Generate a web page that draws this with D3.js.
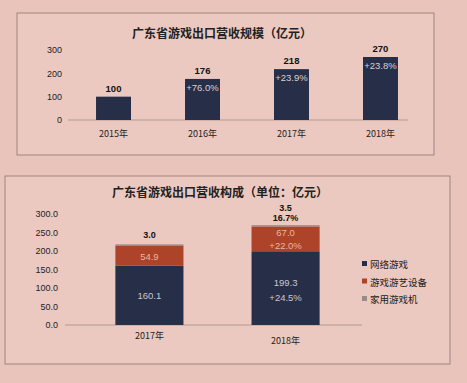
<!DOCTYPE html>
<html><head><meta charset="utf-8">
<script src="https://cdn.jsdelivr.net/npm/d3@7"></script>
<style>
html,body{margin:0;padding:0;background:#e9c4bb;}
svg{display:block;font-family:"Noto Sans CJK SC","Noto Sans",sans-serif;}
</style></head>
<body>
<svg id="c" width="467" height="383"></svg>
<script>
// Top chart data
const years1 = ["2015年","2016年","2017年","2018年"];
const revenue = [100,176,218,270];
const growth1 = ["","+76.0%","+23.9%","+23.8%"];
const ticks1 = [0,100,200,300];

// Bottom chart data
const years2 = ["2017年","2018年"];
const seriesNames = ["网络游戏","游戏游艺设备","家用游戏机"];
const online = [160.1,199.3];
const arcade = [54.9,67.0];
const consoleG = [3.0,3.5];
const onlineGrowth = ["","+24.5%"];
const arcadeGrowth = ["","+22.0%"];
const consoleGrowth = ["","16.7%"];
const ticks2 = [0,50,100,150,200,250,300];

const navy = "#272e48", orange = "#ad4328", grey = "#9a8a8a";
const svg = d3.select("#c");

// boxes
svg.append("rect").attr("x",17).attr("y",13).attr("width",417).attr("height",142)
  .attr("fill","#ecc9c0").attr("stroke","#8f7570").attr("stroke-width",0.8);
svg.append("rect").attr("x",5).attr("y",176).attr("width",445).attr("height",188)
  .attr("fill","#ecc9c0").attr("stroke","#8f7570").attr("stroke-width",0.8);

const numFont = "Liberation Sans, Arial, sans-serif";

// ---- Top chart
const g1 = svg.append("g");
g1.append("text").attr("x",222).attr("y",38).attr("text-anchor","middle")
  .attr("font-size",12).attr("font-weight","bold").attr("fill","#222").text("广东省游戏出口营收规模（亿元）");
const x1 = d3.scaleBand().domain(years1).range([68,426]).paddingInner(0.607).paddingOuter(0.315);
const y1 = d3.scaleLinear().domain([0,300]).range([120,50]);
g1.append("line").attr("x1",68).attr("x2",408).attr("y1",y1(0)).attr("y2",y1(0)).attr("stroke","#b09a95");
const ax1 = g1.append("g").attr("transform","translate(62,0)")
  .call(d3.axisLeft(y1).tickValues(ticks1).tickSize(0).tickPadding(0));
ax1.select(".domain").remove();
ax1.selectAll("text").attr("font-size",9).attr("fill","#222").attr("font-family",numFont);
g1.selectAll("rect.b").data(revenue).join("rect").attr("class","b")
  .attr("x",(d,i)=>x1(years1[i])).attr("width",x1.bandwidth())
  .attr("y",d=>y1(d)).attr("height",d=>y1(0)-y1(d)).attr("fill",navy);
g1.selectAll("text.v").data(revenue).join("text").attr("class","v")
  .attr("x",(d,i)=>x1(years1[i])+x1.bandwidth()/2).attr("y",d=>y1(d)-5)
  .attr("text-anchor","middle").attr("font-size",9.5).attr("font-weight","bold").attr("fill","#111")
  .attr("font-family",numFont).text(d=>d);
g1.selectAll("text.g").data(growth1).join("text").attr("class","g")
  .attr("x",(d,i)=>x1(years1[i])+x1.bandwidth()/2).attr("y",(d,i)=>y1(revenue[i])+12)
  .attr("text-anchor","middle").attr("font-size",9.5).attr("fill","#d9d0d4")
  .attr("font-family",numFont).text(d=>d);
g1.selectAll("text.c").data(years1).join("text").attr("class","c")
  .attr("x",d=>x1(d)+x1.bandwidth()/2).attr("y",137).attr("text-anchor","middle")
  .attr("font-size",9).attr("fill","#222").text(d=>d);

// ---- Bottom chart
const g2 = svg.append("g");
g2.append("text").attr("x",220).attr("y",197).attr("text-anchor","middle")
  .attr("font-size",12).attr("font-weight","bold").attr("fill","#222").text("广东省游戏出口营收构成（单位：亿元）");
const x2 = d3.scaleBand().domain(years2).range([65,370]).paddingInner(0.5).paddingOuter(0.37);
const y2 = d3.scaleLinear().domain([0,300]).range([325,214]);
g2.append("line").attr("x1",65).attr("x2",362).attr("y1",y2(0)).attr("y2",y2(0)).attr("stroke","#b09a95");
const ax2 = g2.append("g").attr("transform","translate(58,0)")
  .call(d3.axisLeft(y2).tickValues(ticks2).tickSize(0).tickPadding(0).tickFormat(d3.format(".1f")));
ax2.select(".domain").remove();
ax2.selectAll("text").attr("font-size",9).attr("fill","#222").attr("font-family",numFont);

const rows = years2.map((y,i)=>({year:y, online:online[i], arcade:arcade[i], console:consoleG[i]}));
const stack = d3.stack().keys(["online","arcade","console"])(rows);
const colors = [navy, orange, grey];
stack.forEach((s,k)=>{
  g2.selectAll("rect.s"+k).data(s).join("rect").attr("class","s"+k)
    .attr("x",d=>x2(d.data.year)).attr("width",x2.bandwidth())
    .attr("y",d=>y2(d[1])).attr("height",d=>y2(d[0])-y2(d[1])).attr("fill",colors[k]);
});
const cx = d=>x2(d)+x2.bandwidth()/2;
years2.forEach((yr,i)=>{
  const midO = y2(online[i]/2);
  const hasG = onlineGrowth[i] !== "";
  g2.append("text").attr("x",cx(yr)).attr("y",hasG? midO-2 : midO+4).attr("text-anchor","middle")
    .attr("font-size",9.5).attr("fill","#cfc6cc").attr("font-family",numFont).text(online[i].toFixed(1));
  if(hasG) g2.append("text").attr("x",cx(yr)).attr("y",midO+13).attr("text-anchor","middle")
    .attr("font-size",9.5).attr("fill","#cfc6cc").attr("font-family",numFont).text(onlineGrowth[i]);
  const midA = y2(online[i]+arcade[i]/2);
  const hasA = arcadeGrowth[i] !== "";
  g2.append("text").attr("x",cx(yr)).attr("y",hasA? midA-3 : midA+4).attr("text-anchor","middle")
    .attr("font-size",9.5).attr("fill","#e8b8a0").attr("font-family",numFont).text(arcade[i].toFixed(1));
  if(hasA) g2.append("text").attr("x",cx(yr)).attr("y",midA+10).attr("text-anchor","middle")
    .attr("font-size",9.5).attr("fill","#e8b8a0").attr("font-family",numFont).text(arcadeGrowth[i]);
  const top = y2(online[i]+arcade[i]+consoleG[i]);
  const hasC = consoleGrowth[i] !== "";
  g2.append("text").attr("x",cx(yr)).attr("y",hasC? top-14 : top-6).attr("text-anchor","middle")
    .attr("font-size",9).attr("font-weight","bold").attr("fill","#111").attr("font-family",numFont).text(consoleG[i].toFixed(1));
  if(hasC) g2.append("text").attr("x",cx(yr)).attr("y",top-4).attr("text-anchor","middle")
    .attr("font-size",9).attr("font-weight","bold").attr("fill","#111").attr("font-family",numFont).text(consoleGrowth[i]);
});
g2.selectAll("text.c").data(years2).join("text").attr("class","c")
  .attr("x",d=>cx(d)).attr("y",(d,i)=>339+i*5).attr("text-anchor","middle")
  .attr("font-size",9).attr("fill","#222").text(d=>d);

// legend
const lg = g2.append("g").attr("transform","translate(362,265)");
seriesNames.forEach((n,i)=>{
  lg.append("rect").attr("x",0).attr("y",i*17.5-4).attr("width",5).attr("height",5).attr("fill",colors[i]);
  lg.append("text").attr("x",8).attr("y",i*17.5+3).attr("font-size",9.5).attr("fill","#222").text(n);
});
</script>
</body></html>
